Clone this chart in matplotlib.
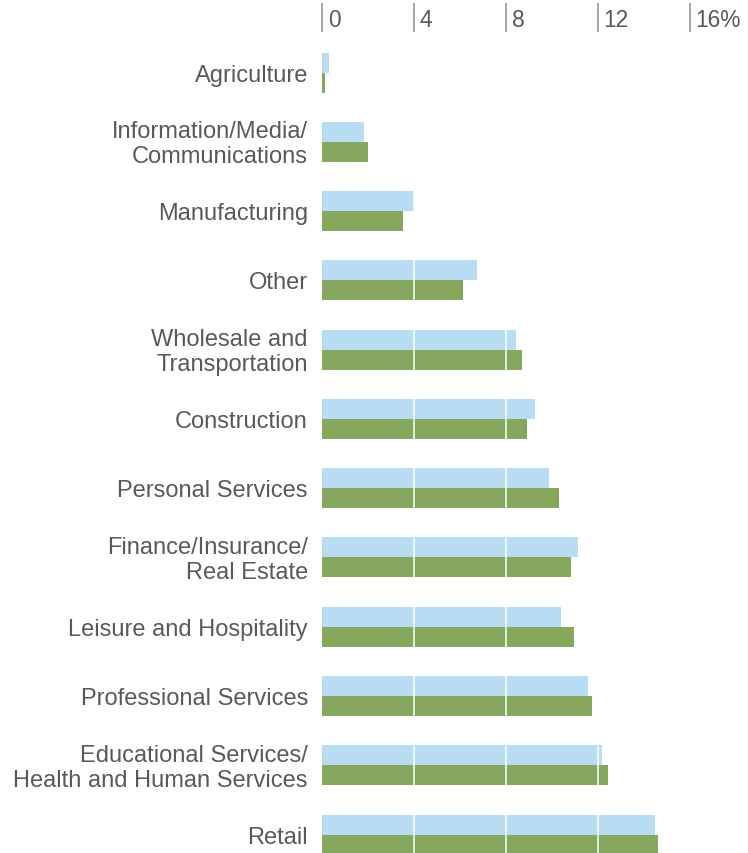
import matplotlib
matplotlib.use("Agg")
import matplotlib.pyplot as plt
import matplotlib.transforms as mtransforms
from matplotlib.transforms import ScaledTranslation

plt.rcParams["font.family"] = ["Liberation Sans", "DejaVu Sans"]

# Share of businesses by industry (%), two periods
industries = [
    "Agriculture",
    "Information/Media/\nCommunications",
    "Manufacturing",
    "Other",
    "Wholesale and\nTransportation",
    "Construction",
    "Personal Services",
    "Finance/Insurance/\nReal Estate",
    "Leisure and Hospitality",
    "Professional Services",
    "Educational Services/\nHealth and Human Services",
    "Retail",
]
series_blue = [0.3, 1.83, 4.0, 6.75, 8.45, 9.28, 9.89, 11.15, 10.41, 11.59, 12.2, 14.5]
series_green = [0.13, 2.0, 3.53, 6.14, 8.71, 8.93, 10.32, 10.84, 10.98, 11.76, 12.46, 14.63]
tick_values = [0, 4, 8, 12, 16]
tick_labels = ["0", "4", "8", "12", "16%"]

BLUE = "#B8DCF2"
GREEN = "#85A85E"
TEXT = "#595959"
TICKLINE = "#8C8C8C"

W, H = 748, 854
fig = plt.figure(figsize=(W / 100, H / 100), dpi=100)
ax_left, ax_right = 322, 689.5
ax_top, ax_bottom = 40, 854
ax = fig.add_axes([ax_left / W, 1 - ax_bottom / H,
                   (ax_right - ax_left) / W, (ax_bottom - ax_top) / H])

spacing = 69.27  # pixels between group centers
first_center = 73.6
ymin = -(first_center - ax_top) / spacing
ymax = (ax_bottom - first_center) / spacing
bar_h = 20 / spacing

ypos = list(range(len(industries)))
ax.barh([y - bar_h / 2 for y in ypos], series_blue, height=bar_h,
        color=BLUE, zorder=1, linewidth=0)
ax.barh([y + bar_h / 2 for y in ypos], series_green, height=bar_h,
        color=GREEN, zorder=1, linewidth=0)

# White gridlines cutting through the bars
for v in tick_values[1:-1]:
    ax.axvline(v, color="white", lw=1.1, zorder=3)

ax.set_xlim(0, 16)
ax.set_ylim(ymax, ymin)
for s in ax.spines.values():
    s.set_visible(False)
ax.set_xticks([])
ax.set_yticks([])

# Category labels, right-aligned to the left of the bars
label_shift = ScaledTranslation(0, -2 / 100, fig.dpi_scale_trans)
for y, name in zip(ypos, industries):
    ax.text(-14 / 22.96, y, name, ha="right", va="center", fontsize=17,
            color=TEXT, linespacing=1.18, transform=ax.transData + label_shift)

# Top axis: short vertical tick lines with labels to their right
blend = mtransforms.blended_transform_factory(ax.transData, fig.transFigure)
for v, lab in zip(tick_values, tick_labels):
    ax.plot([v, v], [1 - 4 / H, 1 - 33 / H], transform=blend, color=TICKLINE,
            lw=1.1, clip_on=False, solid_capstyle="butt")
    ax.text(v, 1 - 20.5 / H, lab, transform=blend + ScaledTranslation(6 / 100, 0, fig.dpi_scale_trans),
            ha="left", va="center", fontsize=16.4, color=TEXT)

fig.savefig("out.png", dpi=100, facecolor="white")
